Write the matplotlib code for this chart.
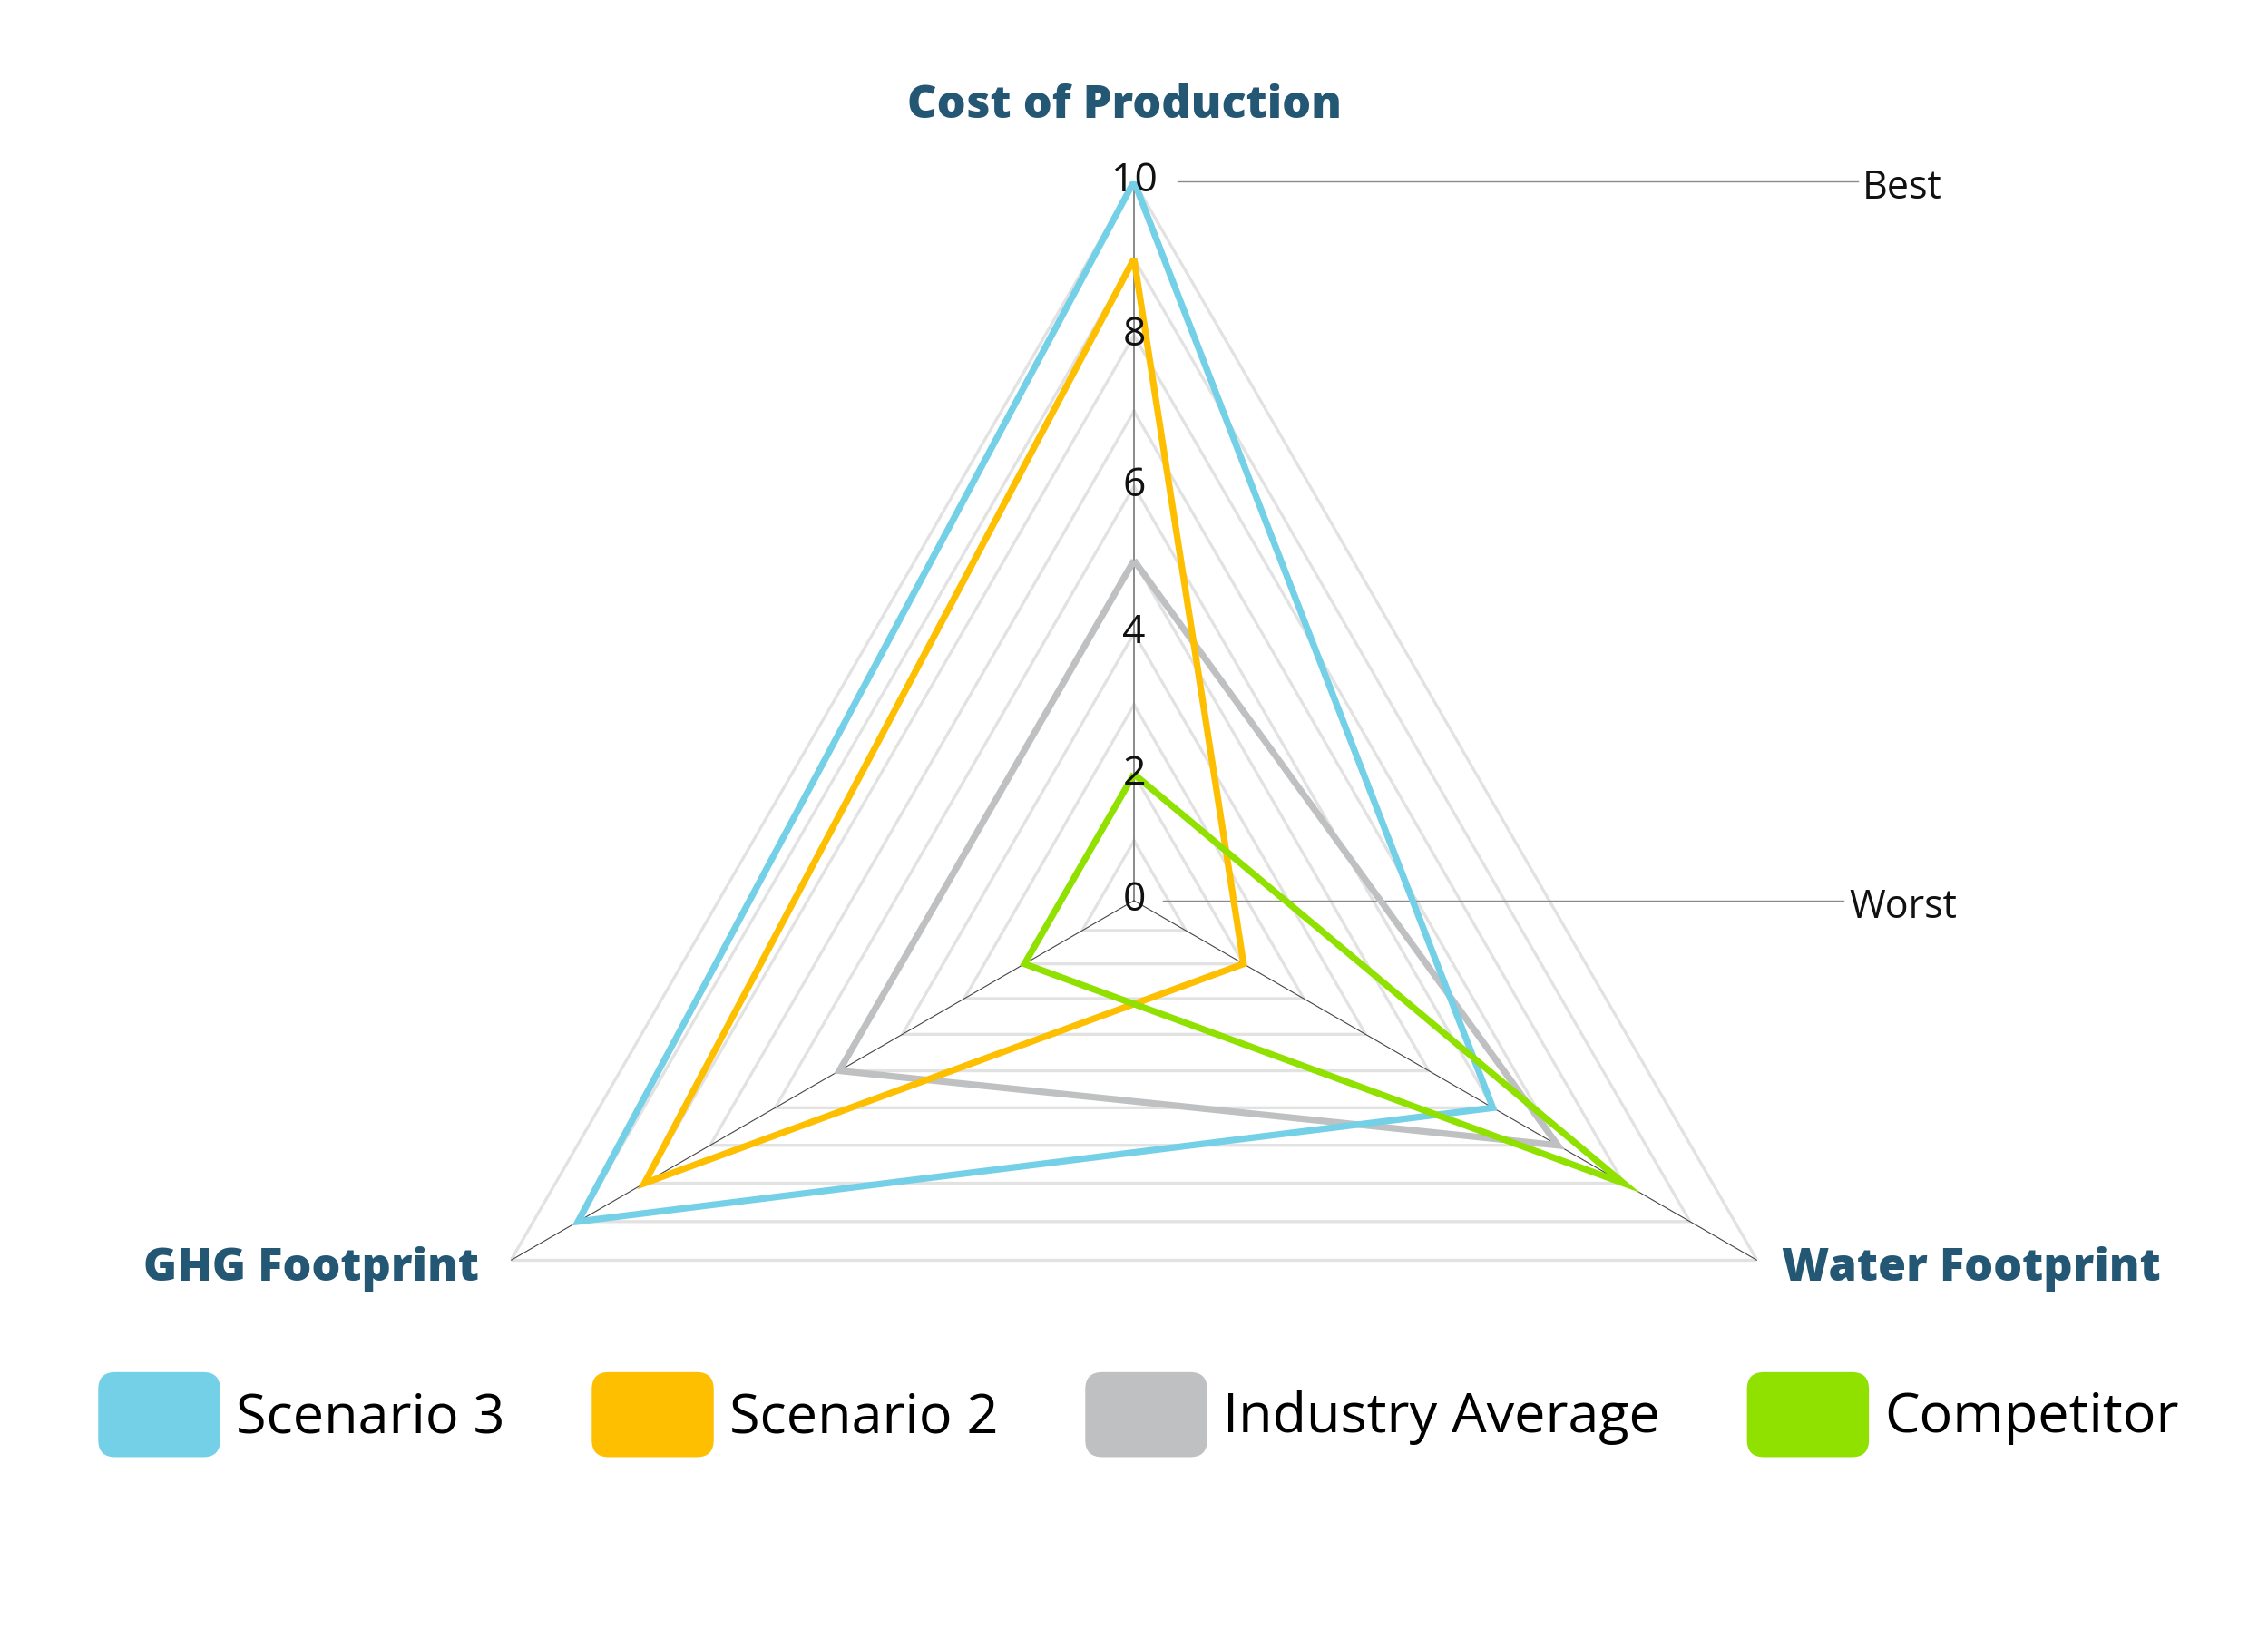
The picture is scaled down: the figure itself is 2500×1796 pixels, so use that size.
import numpy as np
import matplotlib
matplotlib.use("Agg")
import matplotlib.pyplot as plt
from matplotlib.patches import Patch, FancyBboxPatch
from matplotlib.legend_handler import HandlerPatch

plt.rcParams['font.family'] = ['Open Sans', 'DejaVu Sans']

# data
categories = ['Cost of Production', 'Water Footprint', 'GHG Footprint']
series_names = ['Scenario 3', 'Scenario 2', 'Industry Average', 'Competitor']
scenario3 = [10, 6, 9]
scenario2 = [9, 2, 8]
industry_avg = [5, 7, 5]
competitor = [2, 8, 2]
series_values = [scenario3, scenario2, industry_avg, competitor]
colors = ['#74d0e6', '#fdbf00', '#bfc0c1', '#90e000']
draw_order = [2, 1, 0, 3]  # which series sits on top

tick_values = [0, 2, 4, 6, 8, 10]
grid_levels = list(range(1, 11))
r_max = 10

title_color = '#245774'

# the source chart's radius grows a touch faster than linear
R_POW = 1.08


def r_fwd(v):
    return np.power(np.clip(v, 0, None), R_POW)


def r_inv(v):
    return np.power(np.clip(v, 0, None), 1 / R_POW)


fig = plt.figure(figsize=(25, 17.96), dpi=100)
ax = fig.add_axes([0.1828, 0.00557, 0.6344, 0.8831], projection='polar')
ax.set_theta_offset(np.pi / 2)
ax.set_theta_direction(-1)
ax.set_rscale('function', functions=(r_fwd, r_inv))
ax.set_ylim(0, r_max)
ax.grid(False)
ax.set_xticks([])
ax.set_yticks([])
ax.minorticks_off()
ax.spines['polar'].set_visible(False)

angles = np.linspace(0, 2 * np.pi, len(categories), endpoint=False)
closed = np.append(angles, angles[0])

# triangular grid
for lv in grid_levels:
    ax.plot(closed, [lv] * len(closed), color='#e2e2e2', lw=2.4, zorder=1)

# spokes
for i, a in enumerate(angles):
    if i == 0:
        ax.plot([a, a], [0, r_max], color='#8a8a8a', lw=1.4, zorder=2)
    else:
        ax.plot([a, a], [0, r_max], color='#444444', lw=0.8, zorder=2)

# series
for z, idx in enumerate(draw_order):
    vals = series_values[idx] + [series_values[idx][0]]
    ax.plot(closed, vals, color=colors[idx], lw=5.2, zorder=5 + z,
            solid_joinstyle='miter', solid_capstyle='butt')

# radial tick labels on the top spoke
for t in tick_values:
    ax.text(angles[0], t, str(t), ha='center', va='center', fontsize=32,
            color='#111111', zorder=20)

# best / worst guide lines
ax.plot([0.5 + 48 / 1586, 0.5 + 798 / 1586], [1.0, 1.0], transform=ax.transAxes,
        color='#8a8a8a', lw=1.0, clip_on=False)
ax.plot([0.5 + 32 / 1586, 0.5 + 782 / 1586], [0.5, 0.5], transform=ax.transAxes,
        color='#8a8a8a', lw=1.0, clip_on=False)
ax.text(0.5 + 803 / 1586, 1.0 - 8 / 1586, 'Best', transform=ax.transAxes, ha='left',
        va='center', fontsize=31, color='#111111')
ax.text(0.5 + 788 / 1586, 0.5 - 8 / 1586, 'Worst', transform=ax.transAxes, ha='left',
        va='center', fontsize=31, color='#111111')

# category labels
label_offsets = [((-10, 70), 'center'), ((27, -23), 'left'), ((-35, -23), 'right')]
for a, name, (off, ha) in zip(angles, categories, label_offsets):
    ax.annotate(name, xy=(a, r_max), xytext=off, textcoords='offset pixels',
                ha=ha, va='baseline', fontsize=36.3, fontweight='heavy',
                color=title_color, annotation_clip=False)


def rounded_box(legend, orig_handle, xdescent, ydescent, width, height, fontsize):
    return FancyBboxPatch((-xdescent, -ydescent), width, height,
                          boxstyle='round,pad=0,rounding_size=%f' % (0.2 * height))


handles = [Patch(facecolor=c, edgecolor='none') for c in colors]
fig.legend(handles, series_names, loc='center', bbox_to_anchor=(0.502, 0.1316),
           ncol=4, frameon=False, fontsize=44, handlelength=2.2,
           handleheight=1.98, handletextpad=0.28, columnspacing=1.57,
           borderpad=0, handler_map={Patch: HandlerPatch(patch_func=rounded_box)})

fig.savefig('out.png', dpi=100, facecolor='white')
